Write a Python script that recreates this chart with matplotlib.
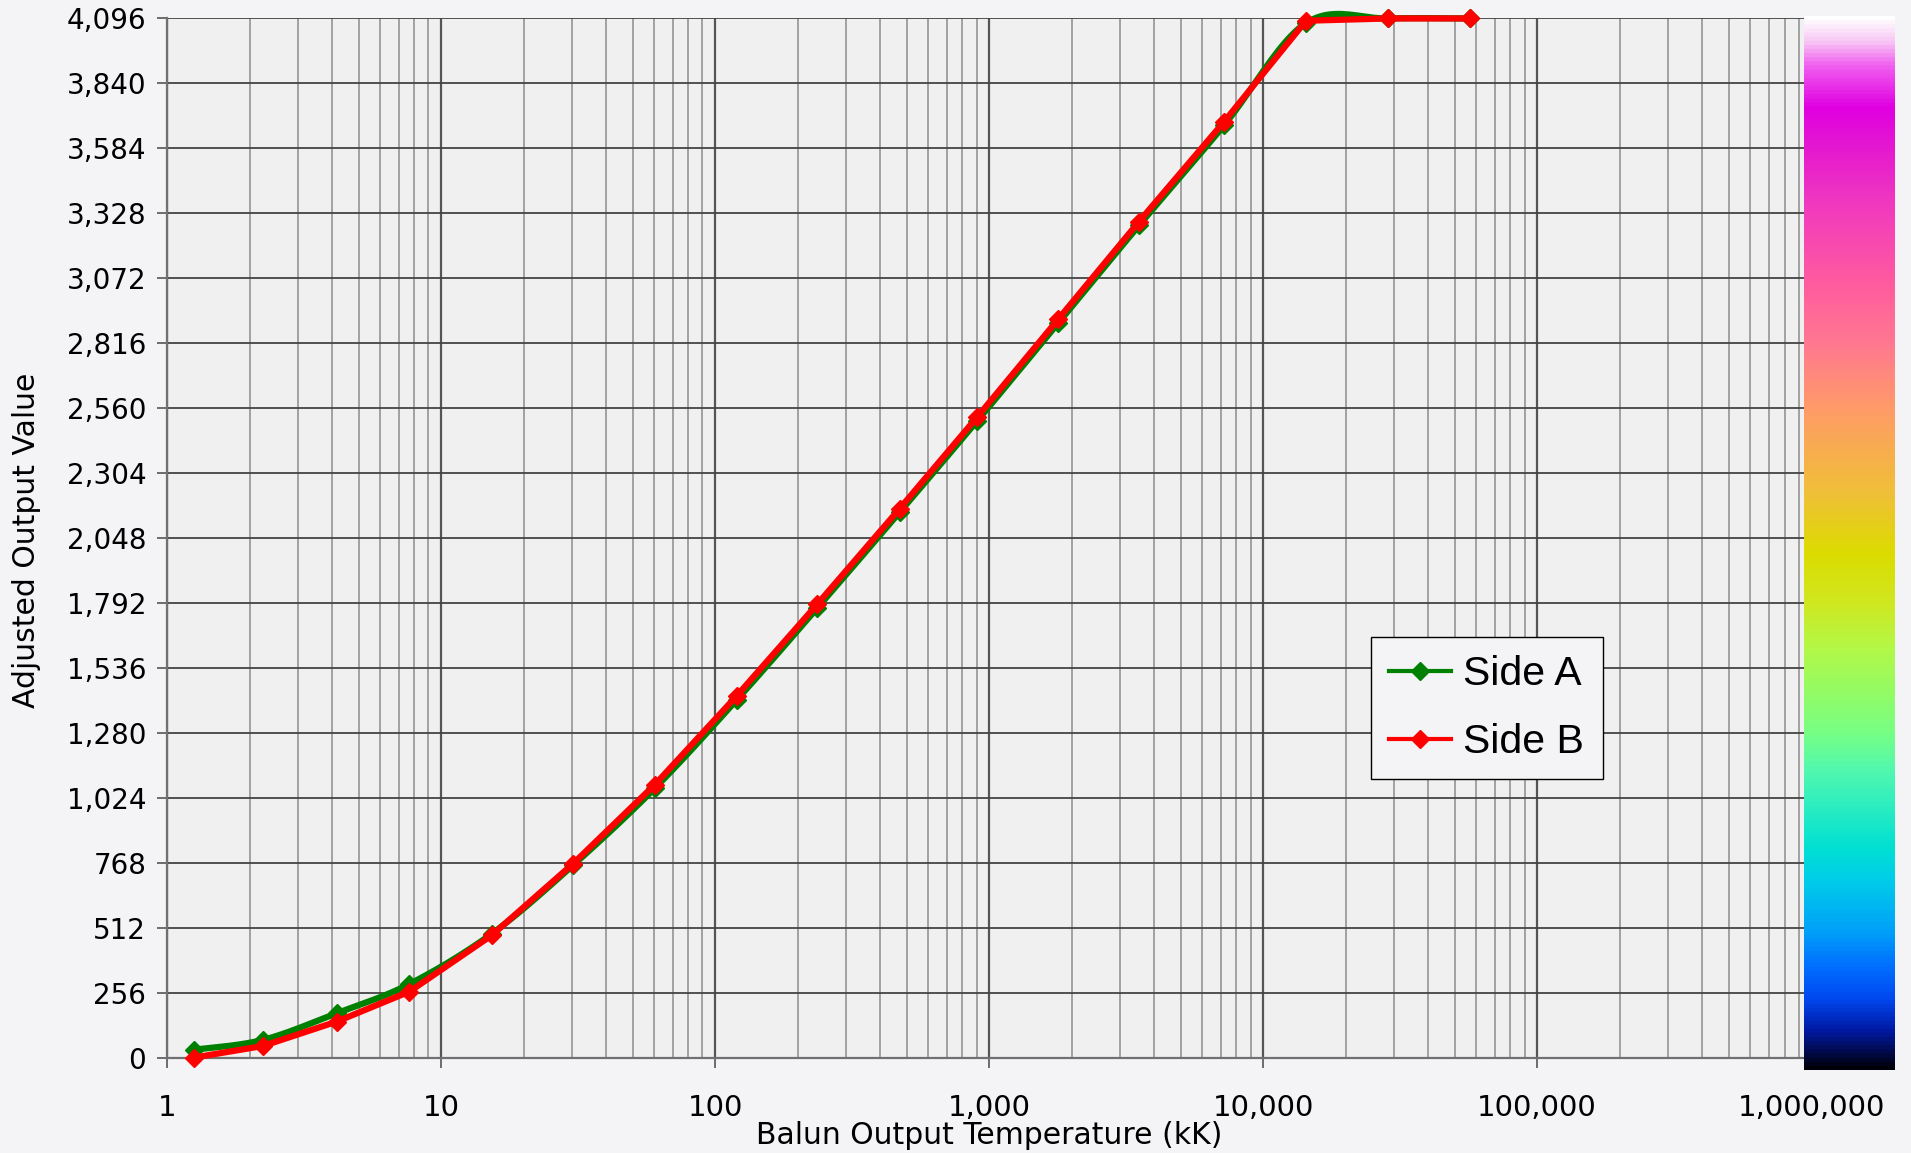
import numpy as np
import matplotlib.pyplot as plt
from matplotlib.colors import LinearSegmentedColormap
from matplotlib.lines import Line2D
from matplotlib.ticker import FuncFormatter, FixedLocator, LogLocator, NullFormatter

# Dados
temperaturas = [1.25, 2.24, 4.16, 7.66, 15.3, 30.3, 60.3, 120, 236, 472, 907,
                1790, 3525, 7210, 14350, 28650, 56900]
lado_a = [31, 70, 175, 290, 488, 758, 1062, 1410, 1772, 2150, 2511, 2896,
          3280, 3675, 4078, 4096, 4096]
lado_b = [0, 46, 142, 260, 482, 764, 1076, 1426, 1787, 2164, 2526, 2911,
          3295, 3689, 4087, 4096, 4096]
y_ticks = list(range(0, 4097, 256))
x_ticks = [1, 10, 100, 1000, 10000, 100000, 1000000]

# Paleta da barra de cores (base -> topo)
paleta = [(0.000, "#000008"), (0.035, "#0018a0"), (0.066, "#0048f0"),
          (0.098, "#0070ff"), (0.130, "#00a0f8"), (0.178, "#00ccea"),
          (0.209, "#00e0d4"), (0.282, "#50f8b0"), (0.320, "#78ff84"),
          (0.354, "#90fc68"), (0.401, "#b4f846"), (0.443, "#cfe820"),
          (0.490, "#dcdc00"), (0.547, "#f0c038"), (0.591, "#f8ac50"),
          (0.630, "#ff9a6a"), (0.690, "#ff7890"), (0.750, "#ff5aa0"),
          (0.825, "#f038c0"), (0.877, "#e418d0"), (0.915, "#e000e0"),
          (0.955, "#f060f0"), (0.978, "#f8c8f4"), (1.000, "#ffffff")]


def suaviza(xs, ys, n=24):
    # curva tipo Catmull-Rom (como linha suavizada do Excel) em log10(x)
    u = np.log10(np.asarray(xs, float))
    v = np.asarray(ys, float)
    pu = np.concatenate([[u[0]], u, [u[-1]]])
    pv = np.concatenate([[v[0]], v, [v[-1]]])
    t = np.linspace(0, 1, n)[:, None]
    pts = []
    for i in range(len(u) - 1):
        p0 = np.array([pu[i], pv[i]])
        p1 = np.array([pu[i + 1], pv[i + 1]])
        p2 = np.array([pu[i + 2], pv[i + 2]])
        p3 = np.array([pu[i + 3], pv[i + 3]])
        c1 = p1 + (p2 - p0) / 6
        c2 = p2 - (p3 - p1) / 6
        seg = ((1 - t) ** 3) * p1 + 3 * ((1 - t) ** 2) * t * c1 \
            + 3 * (1 - t) * t ** 2 * c2 + t ** 3 * p2
        pts.append(seg if i == 0 else seg[1:])
    pts = np.vstack(pts)
    return 10 ** pts[:, 0], pts[:, 1]


fundo = "#f4f4f6"
fig = plt.figure(figsize=(19.11, 11.53), dpi=100, facecolor=fundo)
ax = fig.add_axes([0.0874, 0.0827, 0.8603, 0.9013])
ax.set_facecolor("#f0f0f0")

ax.set_xscale("log")
ax.set_xlim(1, 1000000)
ax.set_ylim(0, 4096)

ax.xaxis.set_major_locator(FixedLocator(x_ticks))
ax.xaxis.set_minor_locator(LogLocator(base=10, subs=np.arange(2, 10)))
ax.xaxis.set_minor_formatter(NullFormatter())
ax.xaxis.set_major_formatter(FuncFormatter(lambda v, p: f"{int(round(v)):,}"))
ax.yaxis.set_major_locator(FixedLocator(y_ticks))
ax.yaxis.set_major_formatter(FuncFormatter(lambda v, p: f"{int(v):,}"))

ax.grid(True, which="major", axis="y", color="#444444", lw=1.3)
ax.grid(True, which="major", axis="x", color="#555555", lw=1.6)
ax.grid(True, which="minor", axis="x", color="#8c8c8c", lw=1.1)
ax.set_axisbelow(True)

ax.tick_params(axis="both", which="major", direction="out", length=7,
               width=1.2, color="#555555", labelsize=20, pad=8)
ax.tick_params(axis="x", which="major", labelsize=21, pad=19)
ax.tick_params(axis="x", which="minor", length=0)
for lado in ["top", "right"]:
    ax.spines[lado].set_visible(False)
for lado in ["left", "bottom"]:
    ax.spines[lado].set_color("#707070")
    ax.spines[lado].set_linewidth(1.6)

# Lado A: linha suavizada
sx, sy = suaviza(temperaturas, lado_a)
ax.plot(sx, sy, color="#008000", lw=4.5, clip_on=False, zorder=3)
ax.plot(temperaturas, lado_a, ls="none", marker="D", ms=9.5, color="#008000",
        clip_on=False, zorder=3)
# Lado B
ax.plot(temperaturas, lado_b, color="#ff0000", lw=4.5, marker="D", ms=9.5,
        clip_on=False, zorder=4)

fig.text(989 / 1911, 1 - 1136 / 1153, "Balun Output Temperature (kK)",
         fontsize=21.5, ha="center", va="center")
fig.text(27 / 1911, 1 - 540 / 1153, "Adjusted Output Value", fontsize=21.5,
         rotation=90, ha="center", va="center")

itens = [Line2D([], [], color="#008000", lw=3, marker="D", ms=9),
         Line2D([], [], color="#ff0000", lw=3, marker="D", ms=9)]
leg = fig.legend(itens, ["Side A", "Side B"], loc="upper left",
                 bbox_to_anchor=(1371 / 1911, 1 - 637 / 1153),
                 bbox_transform=fig.transFigure, borderaxespad=0,
                 prop={"family": "Liberation Sans", "size": 29.5},
                 frameon=True, fancybox=False, edgecolor="black",
                 facecolor=fundo, framealpha=1, handlelength=1.5,
                 handletextpad=0.3, borderpad=0.45, labelspacing=0.72)
leg.get_frame().set_linewidth(1.0)

# Barra de cores ao lado
cmap = LinearSegmentedColormap.from_list("barra", paleta)
cax = fig.add_axes([1804 / 1911, 1 - 1070 / 1153, 91 / 1911, 1054 / 1153])
grad = np.linspace(1, 0, 512)[:, None]
cax.imshow(grad, aspect="auto", cmap=cmap, vmin=0, vmax=1)
cax.set_axis_off()

fig.savefig("out.png", dpi=100, facecolor=fundo)
